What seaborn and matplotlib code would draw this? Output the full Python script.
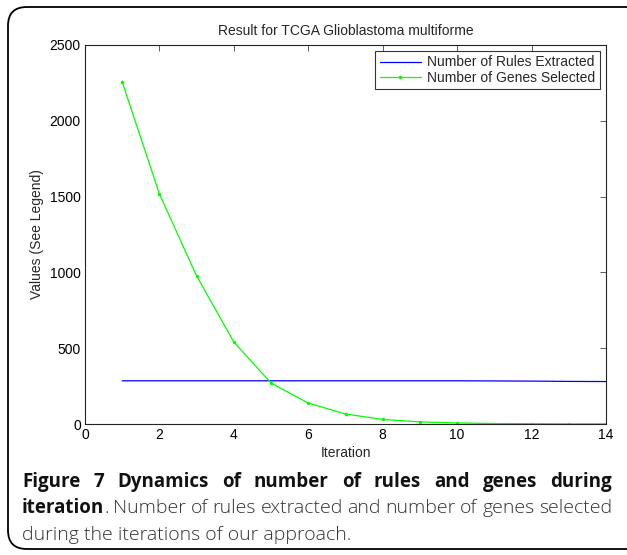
import matplotlib
matplotlib.use("Agg")
import matplotlib.pyplot as plt
import seaborn as sns
import numpy as np
from matplotlib.patches import FancyBboxPatch

iterations = list(range(1, 15))
rules_extracted = [285, 285, 285, 285, 285, 285, 285, 285, 285, 285, 284, 283, 281, 280]
genes_selected = [2256, 1517, 976, 541, 270, 138, 66, 30, 14, 7, 3, 2, 1, 1]

title = "Result for TCGA Glioblastoma multiforme"
xlabel = "Iteration"
ylabel = "Values (See Legend)"
legend_labels = ["Number of Rules Extracted", "Number of Genes Selected"]
xticks = [0, 2, 4, 6, 8, 10, 12, 14]
yticks = [0, 500, 1000, 1500, 2000, 2500]

sns.set_theme(style="white")
plt.rcParams['font.family'] = ['Liberation Sans', 'DejaVu Sans']

W, H = 627, 555
fig = plt.figure(figsize=(W / 100, H / 100), dpi=100)

# rounded frame around the figure
frame = FancyBboxPatch((8 / W, 6 / H), (W + 30) / W, (H - 13) / H,
                       boxstyle="round,pad=0,rounding_size=0.03",
                       transform=fig.transFigure, fill=False, edgecolor="black",
                       linewidth=1.3, mutation_aspect=W / H)
fig.patches.append(frame)

ax = fig.add_axes([85 / W, 1 - 424 / H, (606 - 85) / W, (424 - 45) / H])
sns.lineplot(x=iterations, y=rules_extracted, ax=ax, color="#0000ff", linewidth=0.9,
             label=legend_labels[0])
sns.lineplot(x=iterations, y=genes_selected, ax=ax, color="#00ff00", linewidth=0.9,
             marker="o", markersize=2.5, markeredgewidth=0, label=legend_labels[1])

ax.set_xlim(0, 14)
ax.set_ylim(0, 2500)
ax.set_xticks(xticks)
ax.set_yticks(yticks)
ax.tick_params(direction="in", length=4, width=0.6, color="#444444", labelsize=10,
               top=True, right=True, labelcolor="black", pad=3)
for s in ax.spines.values():
    s.set_color("#222222")
    s.set_linewidth(0.8)
ax.set_title(title, fontsize=10, pad=7)
ax.set_xlabel(xlabel, fontsize=10, labelpad=3)
ax.set_ylabel(ylabel, fontsize=10, labelpad=4)
leg = ax.legend(loc="upper right", fontsize=10, frameon=True, fancybox=False,
                borderpad=0.3, handlelength=3.0, handletextpad=0.45, labelspacing=0.1,
                borderaxespad=0.45)
leg.get_frame().set_edgecolor("black")
leg.get_frame().set_linewidth(0.8)

# caption with justified lines
cap_font = ['Open Sans', 'DejaVu Sans']
fs_bold = 13.5
fs_norm = 14
fig.canvas.draw()
renderer = fig.canvas.get_renderer()

def style(wt):
    if wt == "bold":
        return dict(fontsize=fs_bold, fontweight="bold", color="#111111")
    return dict(fontsize=fs_norm, fontweight="light", color="#333333")

def word_width(word, weight):
    t = fig.text(0, 0, word, family=cap_font, **style(weight))
    w = t.get_window_extent(renderer).width
    t.remove()
    return w

def place_justified(words, y_px, left=22, right=612, glue_first=False):
    widths = [word_width(w, wt) for w, wt in words]
    ngaps = len(words) - 1 - (1 if glue_first else 0)
    gap = (right - left - sum(widths)) / ngaps
    x = left
    for i, ((w, wt), wd) in enumerate(zip(words, widths)):
        fig.text(x / W, 1 - y_px / H, w, family=cap_font, va="baseline", ha="left",
                 **style(wt))
        x += wd + (0 if (glue_first and i == 0) else gap)

line1 = [(w, "bold") for w in "Figure 7 Dynamics of number of rules and genes during".split()]
place_justified(line1, 487)
rest = ". Number of rules extracted and number of genes selected".split()
line2 = [("iteration", "bold")] + [(w, "normal") for w in rest]
place_justified(line2, 513, glue_first=True)
fig.text(22 / W, 1 - 540 / H, "during the iterations of our approach.", family=cap_font,
         va="baseline", ha="left", **style("normal"))

fig.savefig("out.png", dpi=100)
